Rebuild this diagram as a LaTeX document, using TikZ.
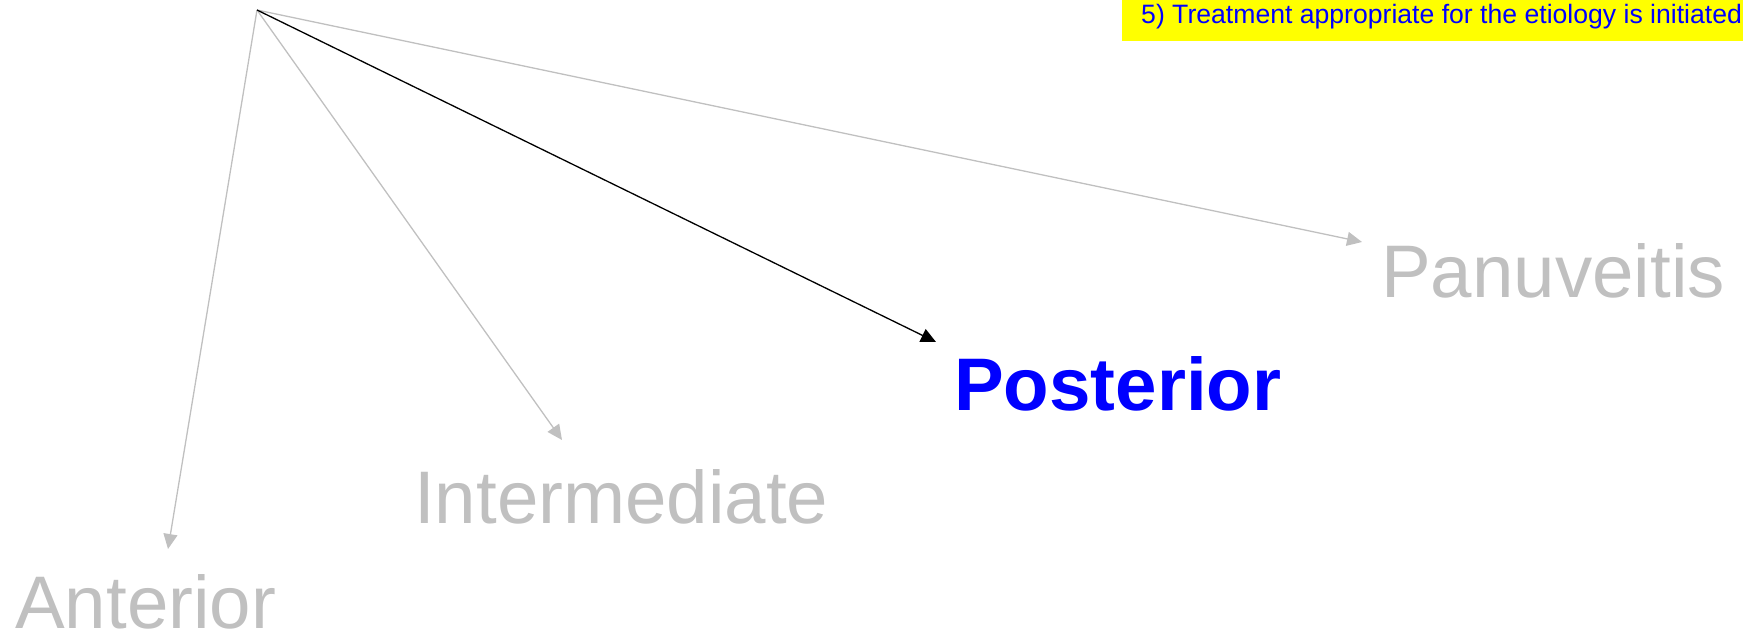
\documentclass[tikz,border=0pt]{standalone}
\usepackage{fontspec}
\setmainfont{Liberation Sans}
\usetikzlibrary{arrows.meta}
\definecolor{fadegray}{HTML}{C0C0C0}
\definecolor{hiblue}{HTML}{0000FF}
\definecolor{hiyellow}{HTML}{FFFF00}
\begin{document}
\begin{tikzpicture}[x=1pt,y=-1pt,
  bigfont/.style={font=\fontsize{74.5}{80}\selectfont},
  label/.style={bigfont,inner sep=0pt,anchor=base west,text depth=0pt},
  faded/.style={label,text=fadegray},
  active/.style={label,text=hiblue,font=\fontsize{74.5}{80}\selectfont\bfseries},
  link/.style={line width=1.3pt,-{Triangle[length=15pt,width=14pt]}},
  fadedlink/.style={link,draw=fadegray},
  activelink/.style={link,draw=black}]
\useasboundingbox (0,0) rectangle (1743,634);

% caption banner
\fill[hiyellow] (1122,0) rectangle (1743,41);
\node[inner sep=0pt,anchor=base west,text=hiblue,font=\fontsize{26.6}{30}\selectfont]
  (step5) at (1141,24) {5) Treatment appropriate for the etiology is initiated};

% anatomical classes
\node[faded]  (ant) at (15,628)   {Anterior};
\node[faded]  (int) at (414,523)  {Intermediate};
\node[active] (pos) at (954,410)  {Posterior};
\node[faded]  (pan) at (1381,297) {Panuveitis};

% branching point and arrow ends
\coordinate (root)   at (257,10);
\coordinate (antTip) at (168,549);
\coordinate (intTip) at (562,440);
\coordinate (posTip) at (936,342);
\coordinate (panTip) at (1362,242);

\draw[fadedlink]  (root) -- (antTip);
\draw[fadedlink]  (root) -- (intTip);
\draw[fadedlink]  (root) -- (panTip);
\draw[activelink] (root) -- (posTip);
\end{tikzpicture}
\end{document}
